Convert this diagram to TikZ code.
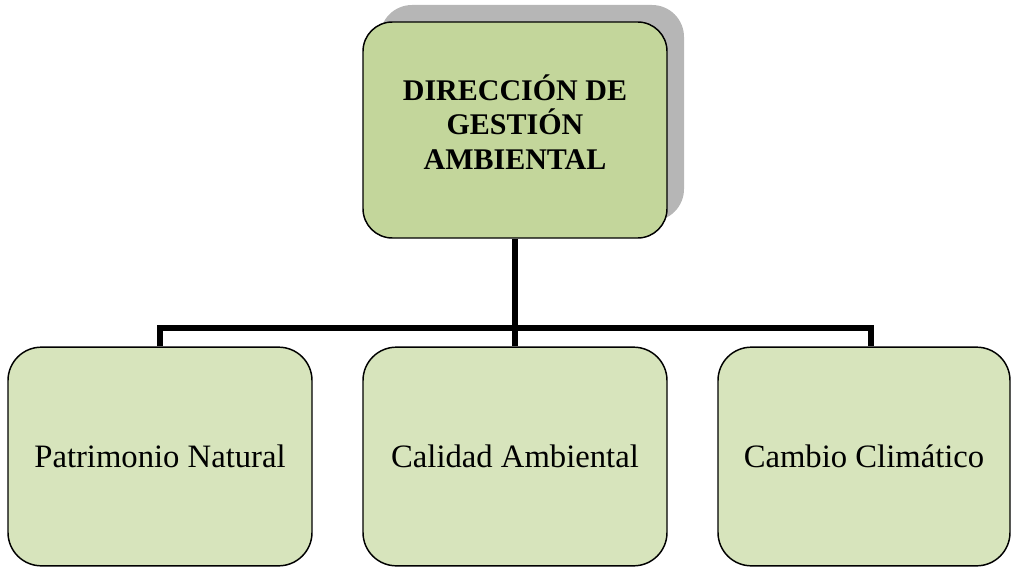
\documentclass[tikz,border=0pt]{standalone}
\usepackage{fontspec}
\setmainfont{Liberation Serif}
\definecolor{topgreen}{RGB}{195,214,155}
\definecolor{subgreen}{RGB}{215,228,188}
\definecolor{shadowgray}{RGB}{182,182,182}
\tikzset{
  topbox/.style={draw=black, line width=1.1pt, fill=topgreen, rounded corners=22pt,
    minimum width=228pt, minimum height=162pt, inner sep=0pt},
  shadowbox/.style={fill=shadowgray, rounded corners=24pt, draw=none,
    minimum width=228pt, minimum height=162pt, inner sep=0pt},
  subbox/.style={draw=black, line width=1.1pt, fill=subgreen, rounded corners=25pt,
    minimum height=164pt, inner sep=0pt, font=\fontsize{24.5}{29}\selectfont},
  toptext/.style={align=center, font=\fontsize{22.5}{26}\selectfont\bfseries, inner sep=0pt},
  conn/.style={draw=black, line width=4pt, line join=miter}
}
\begin{document}
\begin{tikzpicture}[x=0.75pt,y=-0.75pt]
\useasboundingbox (0,0) rectangle (1011,567);
\node[shadowbox] (shd) at (532,113) {};
\node[topbox] (dir) at (515,130) {};
\node[toptext] (dirt) at (515,122) {DIRECCIÓN DE\\GESTIÓN\\AMBIENTAL};
\node[subbox, minimum width=228pt] (pn) at (160,456.5) {Patrimonio Natural};
\node[subbox, minimum width=228pt] (ca) at (515,456.5) {Calidad Ambiental};
\node[subbox, minimum width=219pt] (cc) at (864,456.5) {Cambio Climático};
\coordinate (jL) at (160,328);
\coordinate (jR) at (871,328);
\draw[conn] (dir.south) -- (ca.north);
\draw[conn] (pn.north) -- (jL) -- (jR) -- (jR |- cc.north);
\end{tikzpicture}
\end{document}
